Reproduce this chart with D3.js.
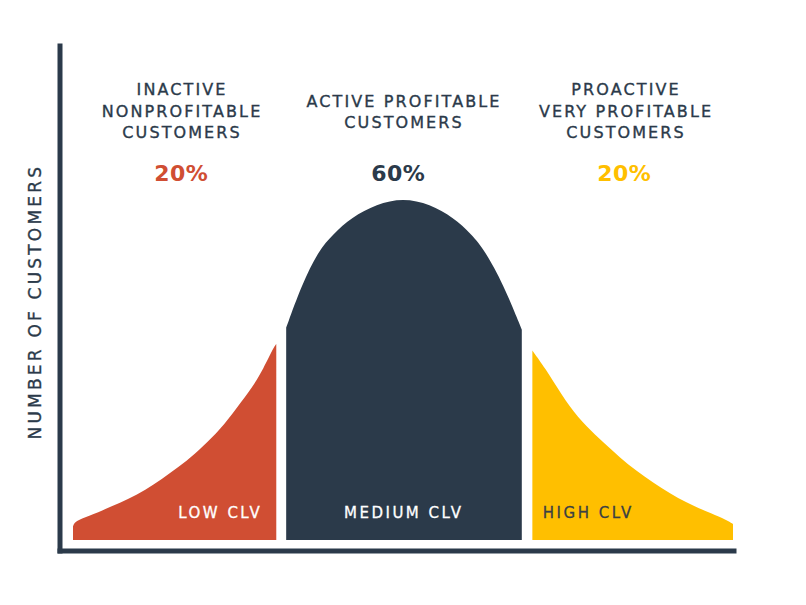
<!DOCTYPE html>
<html>
<head>
<meta charset="utf-8">
<script src="https://cdn.jsdelivr.net/npm/d3@7/dist/d3.min.js"></script>
<style>
  html, body { margin: 0; padding: 0; background: #ffffff; }
  svg { display: block; }
  text { font-family: "DejaVu Sans", "Noto Sans", sans-serif; }
</style>
</head>
<body>
<svg id="chart" width="806" height="605"></svg>
<script>
// ---- Data ----
const segments = ["LOW CLV", "MEDIUM CLV", "HIGH CLV"];
const groupTitles = [
  ["INACTIVE", "NONPROFITABLE", "CUSTOMERS"],
  ["ACTIVE PROFITABLE", "CUSTOMERS"],
  ["PROACTIVE", "VERY PROFITABLE", "CUSTOMERS"]
];
const shares = ["20%", "60%", "20%"];
const yAxisTitle = "NUMBER OF CUSTOMERS";

// customer-lifetime-value (0..100) vs number of customers (0..100)
const lowX  = [0,   0.3,  1.6,  4.6,  7.1,   9.7,  12.2,  14.7,  17.2,  19.7,  22.3,  24.8,  27.3,  28.8,  30.5,  30.8];
const lowY  = [4.0, 5.4,  6.4,  8.8,  10.8,  13.2, 16.1,  19.6,  23.0,  27.4,  32.3,  38.6,  45.0,  49.9,  56.7,  57.3];
const medX  = [32.3, 34.7, 37.2, 39.4, 42.2, 46.0, 50.0, 54.1, 57.6, 60.4, 62.4, 65.2, 68.0];
const medY  = [62.1, 74.8, 84.6, 89.4, 94.3, 98.2, 100,  98.2, 94.3, 89.4, 84.6, 74.8, 61.5];
const highX = [69.6, 71.5, 74.0, 76.5, 79.1, 81.6, 84.1, 86.6, 89.1, 91.7, 94.2, 96.7, 99.0, 100];
const highY = [55.4, 50.4, 42.5, 35.7, 30.8, 26.4, 22.0, 18.6, 15.2, 12.2, 9.8,  7.8,  5.9,  4.7];

const colors = ["#d04e33", "#2b3a4a", "#ffbf00"];
const segLabelColors = ["#ffffff", "#ffffff", "#3a3f44"];
const ink = "#2b3a4a";

// ---- Layout ----
const svg = d3.select("#chart");
const x = d3.scaleLinear().domain([0, 100]).range([73, 733]);
const y = d3.scaleLinear().domain([0, 100]).range([540, 198]);

// axis scales (frame)
const axX = d3.scaleLinear().domain([0, 1]).range([57, 736]);
const axY = d3.scaleLinear().domain([0, 1]).range([553, 43]);

const series = [
  lowX.map((v, i) => ({ x: v, y: lowY[i] })),
  medX.map((v, i) => ({ x: v, y: medY[i] })),
  highX.map((v, i) => ({ x: v, y: highY[i] }))
];

const area = d3.area()
  .x(d => x(d.x))
  .y0(y(0))
  .y1(d => y(d.y))
  .curve(d3.curveBasis);

svg.append("g").selectAll("path")
  .data(series)
  .join("path")
  .attr("d", area)
  .attr("fill", (d, i) => colors[i]);

// axes (no ticks)
const gx = svg.append("g").attr("transform", `translate(0,${550.5})`)
  .call(d3.axisBottom(axX).tickValues([]).tickSizeOuter(0));
gx.select(".domain").attr("stroke", ink).attr("stroke-width", 5);

const gy = svg.append("g").attr("transform", `translate(${59.5},0)`)
  .call(d3.axisLeft(axY).tickValues([]).tickSizeOuter(0));
gy.select(".domain").attr("stroke", ink).attr("stroke-width", 5);

// y axis title
svg.append("text")
  .attr("transform", `translate(40.5,${300 + 1.6}) rotate(-90)`)
  .attr("text-anchor", "middle")
  .attr("fill", ink)
  .attr("stroke", ink)
  .attr("stroke-width", 0.35)
  .attr("font-size", 17)
  .attr("letter-spacing", 3.2)
  .text(yAxisTitle);

// group titles
const titleCx = [181, 403, 625];
const titleBase = [[95, 117, 138], [107, 128], [95, 117, 138]];
const tSpace = 2.1;
groupTitles.forEach((lines, i) => {
  lines.forEach((t, j) => {
    svg.append("text")
      .attr("x", titleCx[i] + tSpace / 2)
      .attr("y", titleBase[i][j])
      .attr("text-anchor", "middle")
      .attr("fill", ink)
      .attr("stroke", ink)
      .attr("stroke-width", 0.35)
      .attr("font-size", 16)
      .attr("letter-spacing", tSpace)
      .text(t);
  });
});

// percentages
const pctCx = [181, 398, 624];
shares.forEach((s, i) => {
  svg.append("text")
    .attr("x", pctCx[i] + 0.25)
    .attr("y", 181)
    .attr("text-anchor", "middle")
    .attr("fill", colors[i])
    .attr("font-size", 22)
    .attr("font-weight", "bold")
    .attr("letter-spacing", 0.5)
    .text(s);
});

// segment labels
const segCx = [219, 402.5, 587];
const sSpace = 2.5;
segments.forEach((s, i) => {
  svg.append("text")
    .attr("x", segCx[i] + sSpace / 2)
    .attr("y", 518)
    .attr("text-anchor", "middle")
    .attr("fill", segLabelColors[i])
    .attr("stroke", segLabelColors[i])
    .attr("stroke-width", 0.3)
    .attr("font-size", 15)
    .attr("letter-spacing", sSpace)
    .text(s);
});
</script>
</body>
</html>
